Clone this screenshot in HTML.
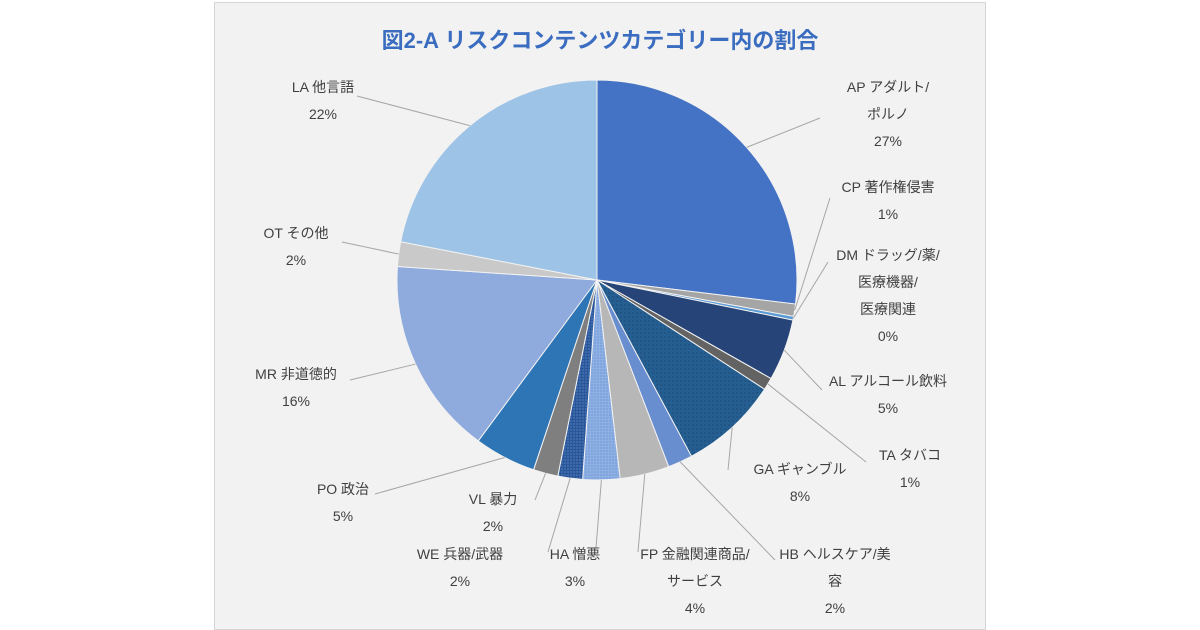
<!DOCTYPE html>
<html><head><meta charset="utf-8"><style>
body{margin:0;background:#fff;width:1200px;height:630px;overflow:hidden;font-family:"Liberation Sans","Noto Sans CJK JP",sans-serif}
#frame{position:absolute;left:214px;top:2px;width:772px;height:628px;background:#f2f2f2;border:1px solid #d6d6d6;box-sizing:border-box}
</style></head><body>
<div id="frame"></div>
<svg id="chart" width="1200" height="630" style="position:absolute;left:0;top:0">
<defs>
<pattern id="dots" width="4" height="4" patternUnits="userSpaceOnUse"><rect width="4" height="4" fill="#255e91"/><circle cx="1" cy="1" r="0.6" fill="#1a3f66"/></pattern>
<pattern id="dots2" width="3" height="3" patternUnits="userSpaceOnUse"><rect width="3" height="3" fill="#8fb0e4"/><circle cx="1" cy="1" r="0.6" fill="#5b85c8"/></pattern>
<pattern id="dots3" width="3" height="3" patternUnits="userSpaceOnUse"><rect width="3" height="3" fill="#2a579a"/><circle cx="1" cy="1" r="0.6" fill="#6f98d8"/></pattern>
</defs>
<text x="600" y="48" text-anchor="middle" font-size="22" font-weight="bold" fill="#3a6cc0">図2-A リスクコンテンツカテゴリー内の割合</text>
<g id="slices"></g><g id="labels"></g>
</svg>
<script>
const categories=["AP","CP","DM","AL","TA","GA","HB","FP","HA","WE","VL","PO","MR","OT","LA"];
const names=[["AP アダルト/","ポルノ"],["CP 著作権侵害"],["DM ドラッグ/薬/","医療機器/","医療関連"],["AL アルコール飲料"],["TA タバコ"],["GA ギャンブル"],["HB ヘルスケア/美","容"],["FP 金融関連商品/","サービス"],["HA 憎悪"],["WE 兵器/武器"],["VL 暴力"],["PO 政治"],["MR 非道徳的"],["OT その他"],["LA 他言語"]];
const values=[27,1,0.3,5,1,8,2,4,3,2,2,5,16,2,22];
const pctLabels=["27%","1%","0%","5%","1%","8%","2%","4%","3%","2%","2%","5%","16%","2%","22%"];
const colors=["#4472c4","#a5a5a5","#5b9bd5","#264478","#636363","url(#dots)","#698ed0","#b7b7b7","url(#dots2)","url(#dots3)","#7f7f7f","#2e75b6","#8faadc","#c9c9c9","#9dc3e6"];
// label anchor [x,y,anchor] for text, and leader end
const labelPos=[[888,92,"middle"],[888,192,"middle"],[888,260,"middle"],[888,386,"middle"],[910,460,"middle"],[800,474,"middle"],[835,559,"middle"],[695,559,"middle"],[575,559,"middle"],[460,559,"middle"],[493,504,"middle"],[343,494,"middle"],[296,379,"middle"],[296,238,"middle"],[323,92,"middle"]];
const leaderEnd=[[820,118],[830,198],[828,262],[822,390],[866,462],[728,470],[775,560],[638,552],[596,548],[548,552],[535,500],[375,494],[350,380],[342,242],[357,96]];
const cx=597,cy=280,R=200;
const total=values.reduce((a,b)=>a+b,0);
const sg=document.getElementById('slices'),lg=document.getElementById('labels');
const NS="http://www.w3.org/2000/svg";
let a0=0;
values.forEach((v,i)=>{
 const a1=a0+v/total*2*Math.PI;
 const p=(a)=>[cx+R*Math.sin(a),cy-R*Math.cos(a)];
 const [x0,y0]=p(a0),[x1,y1]=p(a1);
 const path=document.createElementNS(NS,'path');
 path.setAttribute('d',`M${cx},${cy}L${x0},${y0}A${R},${R} 0 ${a1-a0>Math.PI?1:0} 1 ${x1},${y1}Z`);
 path.setAttribute('fill',colors[i]);path.setAttribute('stroke','#f2f2f2');path.setAttribute('stroke-width','1');
 
 
 sg.appendChild(path);
 const am=(a0+a1)/2;const [mx,my]=[cx+R*Math.sin(am),cy-R*Math.cos(am)];
 const ln=document.createElementNS(NS,'polyline');
 const e=leaderEnd[i];
 ln.setAttribute('points',`${mx},${my} ${e[0]},${e[1]}`);
 ln.setAttribute('stroke','#a6a6a6');ln.setAttribute('fill','none');
 
 
 lg.appendChild(ln);
 const t=document.createElementNS(NS,'text');
 const lp=labelPos[i];
 t.setAttribute('x',lp[0]);t.setAttribute('y',lp[1]);t.setAttribute('text-anchor',lp[2]);
 t.setAttribute('font-size','14');t.setAttribute('fill','#404040');
 
 
 const lines=names[i].concat([pctLabels[i]]);
 lines.forEach((s,k)=>{const ts=document.createElementNS(NS,'tspan');ts.setAttribute('x',lp[0]);ts.setAttribute('dy',k?'27':'0');ts.textContent=s;t.appendChild(ts);});
 lg.appendChild(t);
 a0=a1;
});
</script>
</body></html>
